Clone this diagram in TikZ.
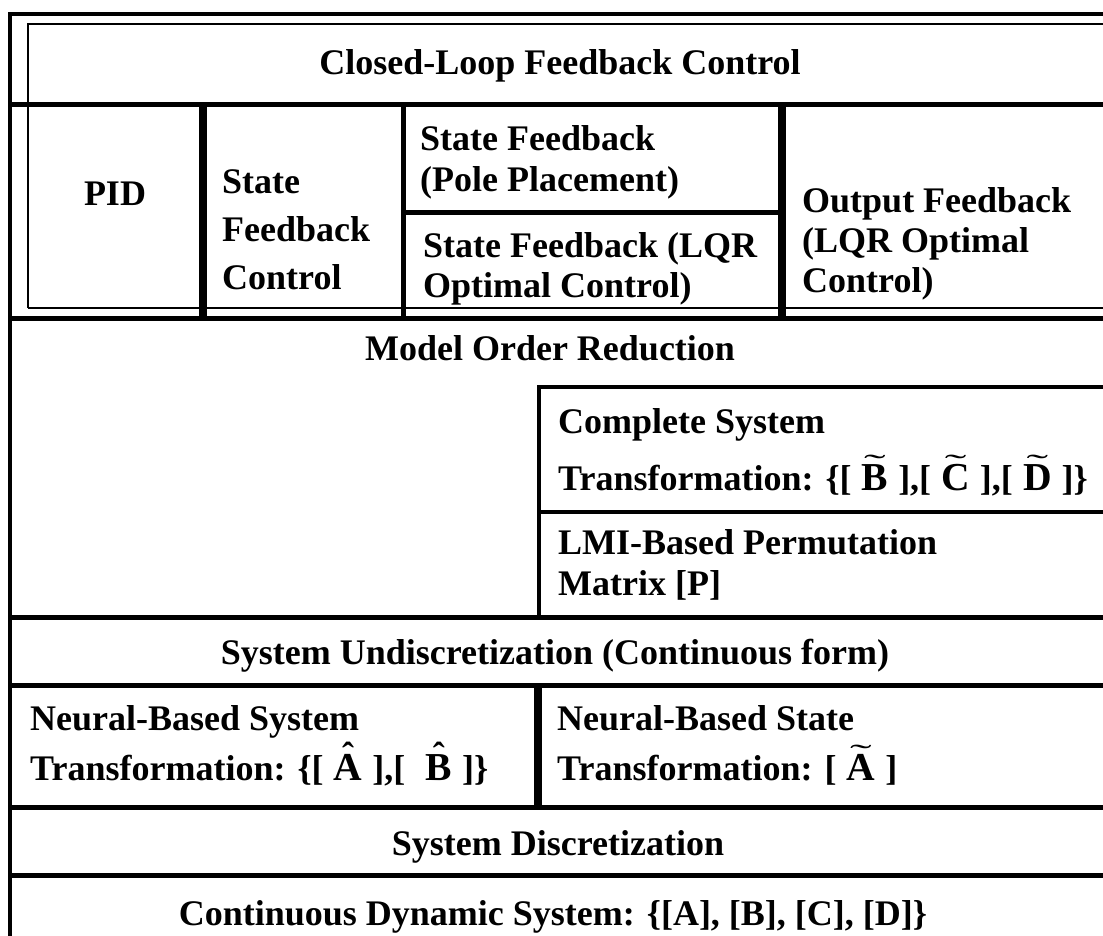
\documentclass[tikz,border=0pt]{standalone}
\usepackage{fontspec}
\setmainfont{Liberation Serif}
\usepackage{graphicx}
\newcommand\tldacc[1]{\leavevmode\setbox0=\hbox{\scalebox{1.1}{#1}}\hbox to\wd0{\hss\smash{\raisebox{0.44em}{\scalebox{1.8}[0.8]{\mdseries\char"02DC}}}\hss}\kern-\wd0\box0}
\newcommand\hatacc[1]{\leavevmode\setbox0=\hbox{\scalebox{1.1}{#1}}\hbox to\wd0{\hss\smash{\raisebox{0.36em}{\char"02C6}}\hss}\kern-\wd0\box0}
\newcommand\gap{\kern0.28em}
\begin{document}
\begin{tikzpicture}[x=1pt,y=-1pt,
  rowline/.style={line width=5pt},
  frameline/.style={line width=4.5pt},
  thinline/.style={line width=1.8pt},
  heavydiv/.style={line width=7.5pt},
  middiv/.style={line width=5pt},
  boxline/.style={line width=4pt},
  lbl/.style={inner sep=0pt, font=\bfseries\fontsize{36}{42}\selectfont, anchor=base west},
  clbl/.style={lbl, anchor=base}]
\useasboundingbox (0,0) rectangle (1103,935);
% outer frame
\draw[frameline] (10,940) -- (10,14) -- (1110,14);
% inner thin frame of the control section
\draw[thinline] (28,308) -- (28,24) -- (1110,24);
\draw[thinline] (28,308) -- (1110,308);
% row lines
\draw[rowline] (10,104) -- (1110,104);
\draw[rowline] (10,318) -- (1110,318);
\draw[rowline] (10,617) -- (1110,617);
\draw[rowline] (10,685) -- (1110,685);
\draw[rowline] (10,807) -- (1110,807);
\draw[rowline] (10,875) -- (1110,875);
% control section dividers
\draw[heavydiv] (203,104) -- (203,320);
\draw[middiv] (403,104) -- (403,320);
\draw[heavydiv] (782,104) -- (782,320);
\draw[middiv] (403,212) -- (782,212);
% model order reduction boxes
\draw[boxline] (539,617) -- (539,387) -- (1110,387);
\draw[boxline] (539,512) -- (1110,512);
% neural divider
\draw[heavydiv] (538,685) -- (538,807);

% texts
\node[clbl] (clfc) at (560,74) {Closed-Loop Feedback Control};
\node[clbl] (pid) at (115,205) {PID};
\node[lbl] (sfc1) at (222,193) {State};
\node[lbl] (sfc2) at (222,241) {Feedback};
\node[lbl] (sfc3) at (222,289) {Control};
\node[lbl] (pp1) at (420,150) {State Feedback};
\node[lbl] (pp2) at (420,191) {(Pole Placement)};
\node[lbl] (lqr1) at (423,257) {State Feedback (LQR};
\node[lbl] (lqr2) at (423,297) {Optimal Control)};
\node[lbl] (of1) at (802,212) {Output Feedback};
\node[lbl] (of2) at (802,252) {(LQR Optimal};
\node[lbl] (of3) at (802,292) {Control)};
\node[clbl] (mor) at (550,360) {Model Order Reduction};
\node[lbl] (cst1) at (558,433) {Complete System};
\node[lbl] (cst2) at (558,490) {Transformation: \{[\gap\tldacc{B}\gap],[\gap\tldacc{C}\gap],[\gap\tldacc{D}\gap]\}};
\node[lbl] (lmi1) at (558,554) {LMI-Based Permutation};
\node[lbl] (lmi2) at (558,595) {Matrix [P]};
\node[clbl] (sud) at (555,664) {System Undiscretization (Continuous form)};
\node[lbl] (nbs1) at (30,730) {Neural-Based System};
\node[lbl] (nbs2) at (30,780) {Transformation: \{[\gap\hatacc{A}\gap],[\gap\gap\hatacc{B}\gap]\}};
\node[lbl] (nbst1) at (557,730) {Neural-Based State};
\node[lbl] (nbst2) at (557,780) {Transformation: [\gap\tldacc{A}\gap]};
\node[clbl] (sd) at (558,855) {System Discretization};
\node[clbl] (cds) at (553,925) {Continuous Dynamic System: \{[A], [B], [C], [D]\}};
\end{tikzpicture}
\end{document}
